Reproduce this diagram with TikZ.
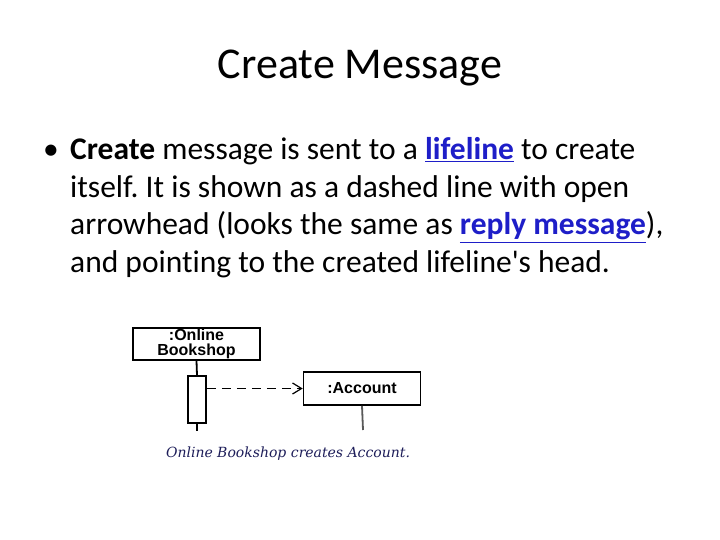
\documentclass[tikz,border=0pt]{standalone}
\usepackage{fontspec}
\setmainfont{Carlito}[Ligatures=NoCommon]
\newfontfamily\arialf{Liberation Sans}
\newfontfamily\capf{DejaVu Serif}
\newfontfamily\quotef{Carlito}[Ligatures=ResetAll]
\usetikzlibrary{arrows.meta}
\definecolor{linkblue}{RGB}{30,30,200}
\definecolor{capblue}{RGB}{30,30,90}
\newcommand{\lnk}[1]{\textcolor{linkblue}{\underline{\textbf{#1}}}}
\frenchspacing
\begin{document}
\begin{tikzpicture}[x=1pt,y=-1pt,
  body/.style={anchor=base west,inner sep=0pt,font=\fontsize{31.5}{36}\selectfont},
  obj/.style={draw,line width=1.6pt,inner sep=0pt,font=\arialf\bfseries\fontsize{16}{15.5}\selectfont,align=center},
  life/.style={line width=1.8pt}]
\useasboundingbox[fill=white] (0,0) rectangle (720,540);
\node[inner sep=0pt,font=\fontsize{44}{50}\selectfont] (title) at (360,68) {Create Message};
\node[body] (b) at (43,160) {•};
\node[body] (l1) at (70,160) {\textbf{Create} message is sent to a \lnk{lifeline} to create};
\node[body] (l2) at (70,197) {itself. It is shown as a dashed line with open};
\node[body] (l3) at (70,235) {arrowhead (looks the same as \lnk{reply message}),};
\node[body] (l4) at (70,272) {and pointing to the created lifeline{\quotef '}s head.};
\node[obj,minimum width=127pt,minimum height=32pt] (ob) at (196.5,344) {:Online\\Bookshop};
\node[obj,minimum width=117pt,minimum height=33pt] (ac) at (362,388.5) {:Account};
\node[draw,line width=1.6pt,minimum width=18pt,minimum height=47pt,inner sep=0pt] (act) at (197,399.5) {};
\coordinate (e1) at (197,431);
\coordinate (e2) at (363,430);
\draw[life] (ob.south) -- (act.north);
\draw[life] (act.south) -- (e1);
\draw[life,gray!70!black] (ac.south) -- (e2);
\draw[line width=1.2pt,dash pattern=on 9pt off 6pt,-{Straight Barb[length=9pt,width=11pt]}] (act.east|-ac.west) -- (ac.west);
\node[inner sep=0pt,font=\capf\itshape\fontsize{14}{15}\selectfont,text=capblue] (cap) at (288,454) {Online Bookshop creates Account.};
\end{tikzpicture}
\end{document}
